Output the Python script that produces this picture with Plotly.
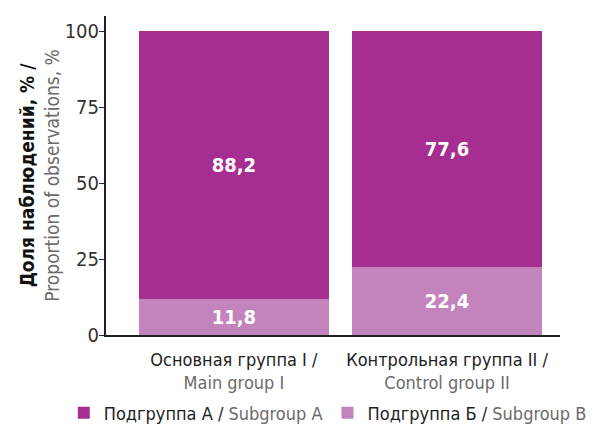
import plotly.graph_objects as go

FONT = "DejaVu Sans Condensed, Roboto, sans-serif"
GREY = "#6b6b6b"

groups = [
    "Основная группа I /<br><span style='color:" + GREY + "'>Main group I</span>",
    "Контрольная группа II /<br><span style='color:" + GREY + "'>Control group II</span>",
]
subgroup_b = [11.8, 22.4]
subgroup_a = [88.2, 77.6]
yticks = [0, 25, 50, 75, 100]


def fmt(v):
    return ("%.1f" % v).replace(".", ",")


fig = go.Figure()
fig.add_trace(go.Bar(
    x=groups, y=subgroup_b,
    name="Подгруппа Б / <span style='color:" + GREY + "'>Subgroup B</span>",
    marker_color="#c384bd", marker_line_width=0,
    text=[fmt(v) for v in subgroup_b], textposition="inside",
    insidetextanchor="middle",
    textfont=dict(color="white", size=20, family=FONT, weight="bold"),
))
fig.add_trace(go.Bar(
    x=groups, y=subgroup_a,
    name="Подгруппа А / <span style='color:" + GREY + "'>Subgroup A</span>",
    marker_color="#a62e91", marker_line_width=0,
    text=[fmt(v) for v in subgroup_a], textposition="inside",
    insidetextanchor="middle",
    textfont=dict(color="white", size=20, family=FONT, weight="bold"),
))

# the page body adds an 8px offset, so the figure is 8px smaller
fig.update_layout(
    width=592, height=436,
    barmode="stack", bargap=0.107,
    plot_bgcolor="white", paper_bgcolor="white",
    margin=dict(l=98, r=40, t=8, b=109),
    font=dict(family=FONT, size=18, color="#222"),
    uniformtext=dict(mode="show", minsize=10),
    legend=dict(
        orientation="h", traceorder="reversed",
        x=-0.093, xanchor="left", y=-0.245, yanchor="middle",
        font=dict(size=18, color="#222"),
        bgcolor="rgba(0,0,0,0)",
        itemclick=False,
    ),
)
fig.update_xaxes(
    range=[-0.6, 1.53], showline=True, linecolor="#222", linewidth=2,
    ticks="", tickfont=dict(size=18, color="#222"), showgrid=False,
    automargin=False, ticklabelstandoff=7,
)
fig.update_yaxes(
    range=[0, 105], tickvals=yticks, showline=True, linecolor="#222",
    linewidth=2, ticks="outside", ticklen=5, tickcolor="#222",
    tickfont=dict(size=20, color="#333"), showgrid=False, zeroline=False,
    automargin=False, ticklabelstandoff=-4,
    title=dict(
        text="<b>Доля наблюдений, % /</b><br><span style='color:" + GREY
             + "'>Proportion of observations, %</span>",
        font=dict(size=19, color="#111"), standoff=0,
    ),
)

fig.write_html("out.html")
